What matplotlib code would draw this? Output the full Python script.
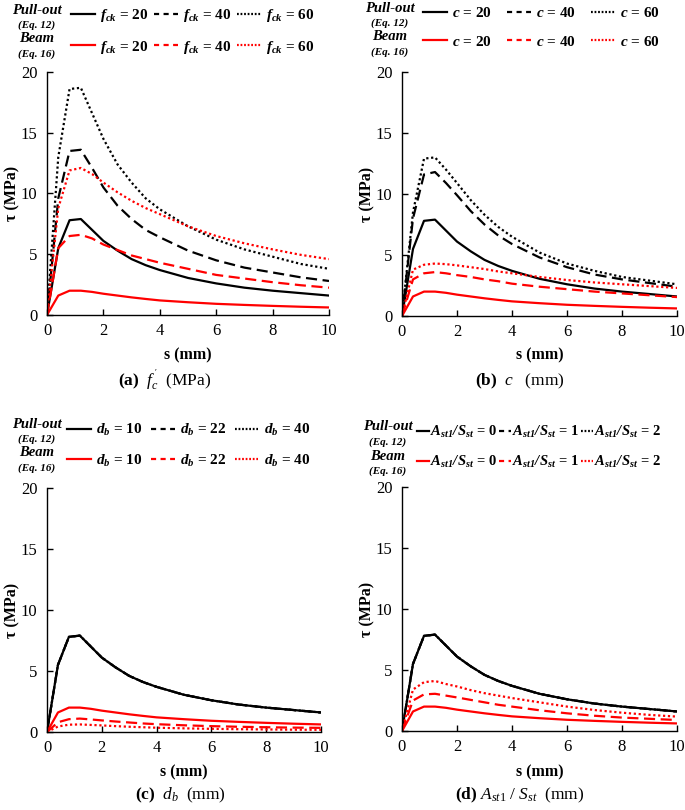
import numpy as np
import matplotlib
matplotlib.use("Agg")
import matplotlib.pyplot as plt
from matplotlib.lines import Line2D

plt.rcParams["font.family"] = ["Liberation Serif", "DejaVu Serif"]
plt.rcParams["mathtext.fontset"] = "custom"
plt.rcParams["mathtext.rm"] = "Liberation Serif"
plt.rcParams["mathtext.it"] = "Liberation Serif:italic"
plt.rcParams["mathtext.bf"] = "Liberation Serif:bold"
plt.rcParams["mathtext.bfit"] = "Liberation Serif:italic:bold"

# ── Data ──────────────────────────────────────────────────────────────
s = [0, 0.4, 0.8, 1.2, 1.6, 2.0, 2.5, 3.0, 3.5, 4.0, 5.0, 6.0, 7.0, 8.0, 9.0, 10.0]

# pull-out (Eq. 12)
pull_base = [0, 5.5, 7.8, 7.9, 7.0, 6.1, 5.3, 4.6, 4.1, 3.7, 3.05, 2.6, 2.25, 2.0, 1.8, 1.6]
pull_fck40 = [0, 9.6, 13.5, 13.6, 12.1, 10.5, 9.0, 7.9, 7.0, 6.4, 5.3, 4.5, 3.9, 3.5, 3.1, 2.8]
pull_fck60 = [0, 13.0, 18.6, 18.7, 16.6, 14.5, 12.4, 10.9, 9.6, 8.7, 7.3, 6.2, 5.4, 4.8, 4.2, 3.8]
pull_c40 = [0, 8.0, 11.6, 11.8, 10.9, 9.9, 8.6, 7.5, 6.6, 5.9, 4.8, 4.0, 3.4, 3.0, 2.7, 2.4]
pull_c60 = [0, 8.5, 12.9, 13.0, 12.0, 10.9, 9.5, 8.3, 7.3, 6.5, 5.2, 4.3, 3.7, 3.2, 2.9, 2.6]

# beam (Eq. 16)
beam_base = [0, 1.6, 2.0, 2.0, 1.9, 1.75, 1.6, 1.45, 1.32, 1.2, 1.05, 0.92, 0.83, 0.75, 0.68, 0.62]
beam_fck40 = [0, 5.5, 6.5, 6.6, 6.3, 5.8, 5.35, 4.9, 4.6, 4.3, 3.8, 3.3, 3.0, 2.7, 2.45, 2.25]
beam_fck60 = [0, 8.8, 11.9, 12.1, 11.6, 10.9, 10.1, 9.4, 8.8, 8.3, 7.3, 6.5, 5.9, 5.4, 4.95, 4.6]
beam_c40 = [0, 3.0, 3.5, 3.6, 3.5, 3.35, 3.2, 3.0, 2.85, 2.65, 2.4, 2.2, 2.0, 1.85, 1.7, 1.55]
beam_c60 = [0, 3.8, 4.2, 4.3, 4.25, 4.15, 4.0, 3.85, 3.65, 3.5, 3.2, 2.95, 2.75, 2.6, 2.45, 2.3]
beam_db22 = [0, 0.8, 1.05, 1.1, 1.03, 0.95, 0.86, 0.78, 0.7, 0.64, 0.55, 0.48, 0.43, 0.39, 0.36, 0.34]
beam_db40 = [0, 0.45, 0.6, 0.62, 0.58, 0.54, 0.48, 0.43, 0.39, 0.35, 0.3, 0.26, 0.23, 0.21, 0.19, 0.18]
beam_ast1 = [0, 2.5, 3.0, 3.05, 2.9, 2.75, 2.55, 2.35, 2.15, 2.0, 1.7, 1.45, 1.25, 1.1, 1.0, 0.9]
beam_ast2 = [0, 3.4, 4.0, 4.1, 3.85, 3.65, 3.35, 3.1, 2.9, 2.7, 2.35, 2.0, 1.72, 1.5, 1.32, 1.18]

labels_fck = [r"$\mathbfit{f}_{\mathbfit{ck}}$ = 20", r"$\mathbfit{f}_{\mathbfit{ck}}$ = 40",
              r"$\mathbfit{f}_{\mathbfit{ck}}$ = 60"]
labels_c = [r"$\mathbfit{c}$ = 20", r"$\mathbfit{c}$ = 40", r"$\mathbfit{c}$ = 60"]
labels_db = [r"$\mathbfit{d}_{\mathbfit{b}}$ = 10", r"$\mathbfit{d}_{\mathbfit{b}}$ = 22",
             r"$\mathbfit{d}_{\mathbfit{b}}$ = 40"]
labels_ast = [r"$\mathbfit{A}_{\mathbfit{st1}}\mathbfit{/S}_{\mathbfit{st}}$ = %d" % k for k in (0, 1, 2)]

captions = [r"$\mathbf{(a)}\ \ f_c^{\,'}\ \ \mathrm{(MPa)}$",
            r"$\mathbf{(b)}\ \ c\ \ \ \mathrm{(mm)}$",
            r"$\mathbf{(c)}\ \ d_b\ \ \mathrm{(mm)}$",
            r"$\mathbf{(d)}\ A_{st\mathrm{1}}\ /\ S_{st}\ \ \mathrm{(mm)}$"]

panels = [
    dict(pull=[pull_base, pull_fck40, pull_fck60], beam=[beam_base, beam_fck40, beam_fck60],
         labels=labels_fck),
    dict(pull=[pull_base, pull_c40, pull_c60], beam=[beam_base, beam_c40, beam_c60],
         labels=labels_c),
    dict(pull=[pull_base, pull_base, pull_base], beam=[beam_base, beam_db22, beam_db40],
         labels=labels_db),
    dict(pull=[pull_base, pull_base, pull_base], beam=[beam_base, beam_ast1, beam_ast2],
         labels=labels_ast),
]

# ── Layout (pixels of a 685x810 figure) ───────────────────────────────
W, H = 685, 810
fig = plt.figure(figsize=(W / 100, H / 100), dpi=100)

ax_px = [(47, 72, 329, 315), (402, 72, 677, 316), (47, 488, 321, 732), (402, 487, 677, 731)]
leg_px = [(71, 7), (423, 6), (67, 422), (417, 424)]
row_px = [(37, 10), (390, 8), (37, 424), (388, 427)]
cap_px = [(165, 381), (520, 381), (180, 795), (520, 795)]
slab_px = [355, 355, 772, 772]
colsp = [0.35, 1.0, 0.55, 0.15]

styles = ["-", (0, (5, 2.5)), (0, (1, 1.2))]
leg_styles = ["-", (0, (2.3, 2.0)), (0, (0.8, 0.8))]
RED = "#ff0000"

for i, p in enumerate(panels):
    x0, y0, x1, y1 = ax_px[i]
    ax = fig.add_axes([x0 / W, 1 - y1 / H, (x1 - x0) / W, (y1 - y0) / H])
    for k in (2, 1, 0):
        ax.plot(s, p["pull"][k], color="black", lw=1.6, ls=styles[k])
    for k in (2, 1, 0):
        ax.plot(s, p["beam"][k], color=RED, lw=1.6, ls=styles[k])

    ax.set_xlim(0, 10)
    ax.set_ylim(0, 20)
    ax.set_xticks([0, 2, 4, 6, 8, 10])
    ax.set_yticks([0, 5, 10, 15, 20])
    for sp in ["top", "right"]:
        ax.spines[sp].set_visible(False)
    for sp in ["left", "bottom"]:
        ax.spines[sp].set_linewidth(1.0)
    ax.tick_params(axis="both", direction="in", length=4, width=1.0, labelsize=12)
    ax.tick_params(axis="x", pad=6)
    ax.tick_params(axis="y", pad=7)
    ax.set_ylabel("τ (MPa)", fontsize=11.5, fontweight="bold")
    ax.yaxis.set_label_coords(-27 / (x1 - x0), 0.5)
    fig.text(((x0 + x1) / 2) / W, 1 - slab_px[i] / H, "s (mm)", fontsize=11.5,
             fontweight="bold", ha="center", va="center")
    fig.text(cap_px[i][0] / W, 1 - cap_px[i][1] / H, captions[i], fontsize=12.5,
             ha="center", va="center")

    # legend: row 1 pull-out (black), row 2 beam (red)
    handles, labels = [], []
    for k in range(3):
        for c in ("black", RED):
            handles.append(Line2D([], [], color=c, lw=1.6, ls=leg_styles[k]))
            labels.append(p["labels"][k])
    if i == 3:
        leg_kw = dict(prop={"size": 10.5, "weight": "bold"}, handlelength=0.8, handletextpad=0.1)
    else:
        leg_kw = dict(prop={"size": 11, "weight": "bold"}, handlelength=1.55, handletextpad=0.35)
    lx, ly = leg_px[i]
    ax.legend(handles, labels, ncol=3, loc="upper left",
              bbox_to_anchor=(lx / W, 1 - ly / H), bbox_transform=fig.transFigure,
              frameon=False, borderpad=0, borderaxespad=0, labelspacing=0.95,
              columnspacing=colsp[i], **leg_kw)

    rx, ry = row_px[i]
    fig.text(rx / W, 1 - ry / H, "Pull-out", fontsize=10.5, fontweight="bold",
             style="italic", ha="center", va="center")
    fig.text(rx / W, 1 - (ry + 15) / H, "(Eq. 12)", fontsize=8, fontweight="bold",
             style="italic", ha="center", va="center")
    fig.text(rx / W, 1 - (ry + 29) / H, "Beam", fontsize=10.5, fontweight="bold",
             style="italic", ha="center", va="center")
    fig.text(rx / W, 1 - (ry + 44) / H, "(Eq. 16)", fontsize=8, fontweight="bold",
             style="italic", ha="center", va="center")

fig.savefig("out.png", dpi=100)
